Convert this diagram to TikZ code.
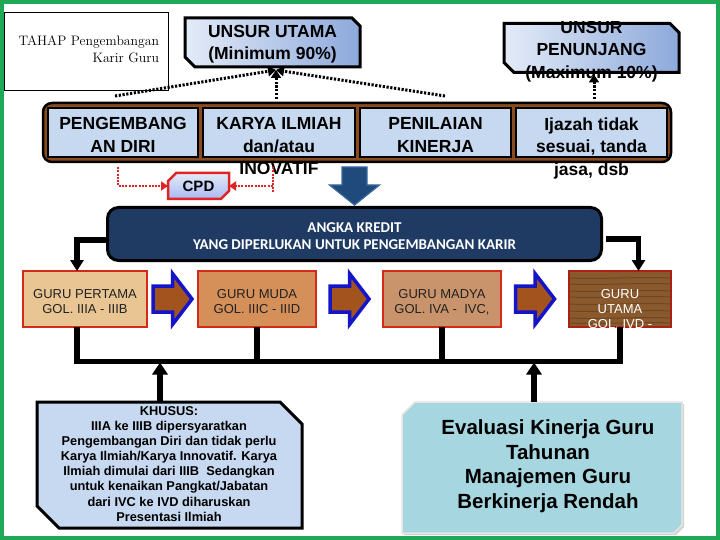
\documentclass[tikz,border=0pt]{standalone}
\usepackage{fontspec}
\usetikzlibrary{arrows.meta,shapes.misc,calc,shadows}
\newfontfamily\arialf{Liberation Sans}
\newfontfamily\calf{Carlito}
\definecolor{frameGreen}{HTML}{1FA855}
\definecolor{cellBlue}{HTML}{C6D9F1}
\definecolor{gradL}{HTML}{E3EBF7}
\definecolor{gradR}{HTML}{8DA9DB}
\definecolor{brownFrame}{HTML}{8A4B1E}
\definecolor{navy}{HTML}{1F3B63}
\definecolor{arrowBlue}{HTML}{1F4A7C}
\definecolor{arrowBlueLight}{HTML}{3A6A9E}
\definecolor{blockBrown}{HTML}{A3541E}
\definecolor{blockBlue}{HTML}{1414C8}
\definecolor{redLine}{HTML}{E02424}
\definecolor{woodA}{HTML}{E8C593}
\definecolor{woodB}{HTML}{D58F58}
\definecolor{woodC}{HTML}{C9946B}
\definecolor{woodD}{HTML}{8A5A2E}
\definecolor{woodDdark}{HTML}{5E3A1A}
\definecolor{boxRed}{HTML}{D42A18}
\definecolor{water}{HTML}{A6D6E0}
\definecolor{guruText}{HTML}{222222}
\begin{document}
\begin{tikzpicture}[x=1pt,y=-1pt,line join=miter,
  every node/.style={inner sep=0pt,outer sep=0pt},
  unsurfill/.style={draw=black,line width=3pt,left color=gradL,right color=gradR},
  topfont/.style={font=\arialf\bfseries\fontsize{17.5}{22.5}\selectfont},
  cellbox/.style={rectangle,draw=black,line width=1.5pt,fill=cellBlue,minimum height=49pt},
  celltext/.style={topfont,anchor=north,align=center},
  cpdbox/.style={chamfered rectangle,chamfered rectangle corners={north west,south east},
    chamfered rectangle xsep=6pt,draw=redLine,line width=2.5pt,top color=gradL,bottom color=cellBlue!85!blue},
  blackdot/.style={draw=black,line width=3pt,dash pattern=on 2.2pt off 1.6pt,-{Triangle[length=8pt,width=10pt]}},
  reddot/.style={draw=redLine,line width=2.5pt,dash pattern=on 2pt off 1.3pt},
  redtip/.style={-{Triangle[length=7pt,width=9pt]}},
  busline/.style={draw=black,line width=5.5pt},
  bustip/.style={-{Triangle[length=11pt,width=13pt]}},
  uptip/.style={-{Triangle[length=12pt,width=15pt]}},
  gurubox/.style={rectangle,draw=boxRed,line width=2pt,minimum height=56pt},
  gurutext/.style={anchor=north,align=center,font=\arialf\fontsize{13}{15}\selectfont},
  khususfill/.style={draw=black,line width=3pt,fill=cellBlue},
  evalfill/.style={draw=white!80!gray,line width=1.5pt,fill=water,
    drop shadow={opacity=0.35,shadow xshift=2pt,shadow yshift=-2pt}},
  anchorbox/.style={rectangle},
  blockarrow/.pic={\filldraw[fill=blockBrown,draw=blockBlue,line width=3.5pt]
    (-19.5,-13) -- (0,-13) -- (0,-25.5) -- (19.5,0) -- (0,25.5) -- (0,13) -- (-19.5,13) -- cycle;}
]
\useasboundingbox (0,0) rectangle (720,540);
\fill[white] (0,0) rectangle (720,540);

% title box
\node[draw=black,line width=0.8pt,fill=white,minimum width=164pt,minimum height=78pt] (tahap) at (86,51) {};
\node[anchor=north east,align=right,font=\fontsize{13.7}{17}\selectfont] (tahapt) at (159,35.6) {TAHAP Pengembangan\\Karir Guru};

% UNSUR UTAMA
\node[anchorbox,minimum width=175pt,minimum height=49pt] (uu) at (272.5,42.5) {};
\path[unsurfill] (uu.north west) -- ([xshift=-8pt]uu.north east) -- ([yshift=-8pt]uu.north east)
  -- (uu.south east) -- ([xshift=10pt]uu.south west) -- ([yshift=10pt]uu.south west) -- cycle;
\node[celltext] (uut) at (272.5,24.8) {UNSUR UTAMA\\(Minimum 90\%)};

% UNSUR PENUNJANG
\node[anchorbox,minimum width=175pt,minimum height=49pt] (up) at (591.5,48) {};
\path[unsurfill] (up.north west) -- ([xshift=-9pt]up.north east) -- ([yshift=-9pt]up.north east)
  -- (up.south east) -- ([xshift=10pt]up.south west) -- ([yshift=10pt]up.south west) -- cycle;
\begin{scope}
  \clip (495,22) rectangle (700,100);
  \node[celltext] (upt) at (591.5,20.8) {UNSUR\\PENUNJANG\\(Maximum 10\%)};
\end{scope}

% brown frame with cells
\node[draw=black,fill=brownFrame,line width=2.5pt,rounded corners=9pt,minimum width=628pt,minimum height=59pt] (frame) at (357,132.5) {};
\node[cellbox,minimum width=150pt] (c1) at (123,132.5) {};
\node[cellbox,minimum width=152pt] (c2) at (279,132.5) {};
\node[cellbox,minimum width=151pt] (c3) at (435.5,132.5) {};
\node[cellbox,minimum width=151pt] (c4) at (591.5,132.5) {};
\node[celltext] (c1t) at (123,117.5) {PENGEMBANG\\AN DIRI};
\node[celltext] (c2t) at (279,117.5) {KARYA ILMIAH\\dan/atau\\INOVATIF};
\node[celltext] (c3t) at (435.5,117.5) {PENILAIAN\\KINERJA};
\node[celltext] (c4t) at (591.5,117.5) {Ijazah tidak\\sesuai, tanda\\jasa, dsb};

% dotted arrows to UNSUR boxes
\coordinate (dL) at (115,96);
\coordinate (dM) at (276,99);
\coordinate (dR) at (445,96);
\coordinate (uTip) at ($(uu.south)+(3.5,3)$);
\draw[blackdot] (dL) -- (uTip);
\draw[blackdot] (dR) -- (uTip);
\draw[blackdot] (dM) -- (uTip);
\draw[blackdot] ($(c4.north)+(2.5,-9)$) -- ($(up.south)+(2.5,2)$);

% CPD
\node[cpdbox,minimum width=61pt,minimum height=26pt,font=\arialf\bfseries\fontsize{15}{18}\selectfont] (cpd) at (198.5,186) {CPD};
\coordinate (rl) at (118,167);
\coordinate (rr) at (273,167);
\coordinate (rrEnd) at (273,192);
\draw[reddot,redtip] (rl) |- (cpd.west);
\draw[reddot] (rr) -- (rrEnd);
\draw[reddot,redtip] (rr |- cpd.east) -- (cpd.east);

% big blue arrow
\coordinate (ba) at (354.5,186);
\filldraw[fill=arrowBlue,draw=arrowBlueLight,line width=1.2pt]
  ($(ba)+(-12.5,-19)$) -- ($(ba)+(12.5,-19)$) -- ($(ba)+(12.5,-1)$) -- ($(ba)+(25,-1)$)
  -- ($(ba)+(0,19)$) -- ($(ba)+(-25,-1)$) -- ($(ba)+(-12.5,-1)$) -- cycle;

% ANGKA KREDIT
\node[draw=black,line width=3pt,fill=navy,rounded corners=11pt,minimum width=494pt,minimum height=53pt] (ak) at (354.5,234) {};
\node[anchor=north,align=center,text=white,font=\calf\bfseries\fontsize{15}{17.5}\selectfont] (akt) at (354.5,222.3)
  {ANGKA KREDIT\\YANG DIPERLUKAN UNTUK PENGEMBANGAN KARIR};

% GURU boxes
\node[gurubox,fill=woodA,minimum width=124pt] (gp) at (85,299) {};
\node[gurubox,fill=woodB,minimum width=118pt] (gm) at (257,299) {};
\node[gurubox,fill=woodC,minimum width=118pt] (gmd) at (442,299) {};
\node[gurubox,fill=woodD,draw=boxRed!80!black,minimum width=102pt] (gu) at (620,299) {};
\begin{scope}
  \clip (gu.north west) rectangle (gu.south east);
  \foreach \yy in {278,284,291,297,304,311,318,323}
    \draw[woodDdark,line width=1pt,opacity=0.6] (569,\yy) .. controls (600,\yy+1.5) and (640,\yy-1.5) .. (671,\yy);
  \node[gurutext,text=white] (gut) at (620,289.7) {GURU\\UTAMA\\GOL. IVD -};
\end{scope}
\draw[boxRed!80!black,line width=2pt] (gu.south west) |- (gu.north east) -- (gu.south east);
\node[gurutext,text=guruText] (gpt) at (85,289.7) {GURU PERTAMA\\GOL. IIIA - IIIB};
\node[gurutext,text=guruText] (gmt) at (257,289.7) {GURU MUDA\\GOL. IIIC - IIID};
\node[gurutext,text=guruText] (gmdt) at (442,289.7) {GURU MADYA\\GOL. IVA -~ IVC,};

% block arrows
\pic at ($(gp.east)!0.5!(gm.west)$) {blockarrow};
\pic at ($(gm.east)!0.5!(gmd.west)$) {blockarrow};
\pic at ($(gmd.east)!0.5!(gu.west)$) {blockarrow};

% connectors from ANGKA KREDIT
\draw[busline,bustip] ([yshift=-6pt]ak.west) -| ([xshift=-8pt]gp.north);
\draw[busline,bustip] ([xshift=4pt,yshift=-5pt]ak.east) -| ([xshift=18.5pt]gu.north);

% bus
\coordinate (busL) at (77,361.5);
\coordinate (busR) at (620,361.5);
\draw[busline] ([xshift=-8pt]gp.south) -- (busL) -- (busR) -- (gu.south);
\draw[busline] (gm.south) -- (gm.south |- busL);
\draw[busline] (gmd.south) -- (gmd.south |- busL);

% KHUSUS
\node[anchorbox,minimum width=265pt,minimum height=126pt] (kh) at (169.5,465) {};
\path[khususfill] (kh.north west) -- ([xshift=-22pt]kh.north east) -- ([yshift=-22pt]kh.north east)
  -- (kh.south east) -- ([xshift=22pt]kh.south west) -- ([yshift=22pt]kh.south west) -- cycle;
\node[anchor=north,align=center,font=\arialf\bfseries\fontsize{12.8}{15.1}\selectfont] (kht) at (169,406.5)
  {KHUSUS:\\IIIA ke IIIB dipersyaratkan\\Pengembangan Diri dan tidak perlu\\Karya Ilmiah/Karya Innovatif. Karya\\Ilmiah dimulai dari IIIB~ Sedangkan\\untuk kenaikan Pangkat/Jabatan\\dari IVC ke IVD diharuskan\\Presentasi Ilmiah};

% Evaluasi
\node[anchorbox,minimum width=280pt,minimum height=131pt] (ev) at (542,467.5) {};
\path[evalfill] ([xshift=13pt]ev.north west) -- (ev.north east) -- ([yshift=8pt]ev.south east)
  -- ([xshift=-8pt]ev.south east) -- (ev.south west) -- ([yshift=-13pt]ev.north west) -- cycle;
\node[anchor=north,align=center,font=\arialf\bfseries\fontsize{20.5}{24.7}\selectfont] (evt) at (548,419.7)
  {Evaluasi Kinerja Guru\\Tahunan\\Manajemen Guru\\Berkinerja Rendah};

% up arrows
\draw[busline,uptip,shorten >=1pt] ([xshift=-9.5pt]kh.north) -- ([xshift=-9.5pt]kh.north |- busL);
\draw[busline,uptip,shorten >=1pt] ([xshift=-8pt]ev.north) -- ([xshift=-8pt]ev.north |- busL);

% green frame
\draw[frameGreen,line width=4pt] (2,2) rectangle (718,538);
\end{tikzpicture}
\end{document}
